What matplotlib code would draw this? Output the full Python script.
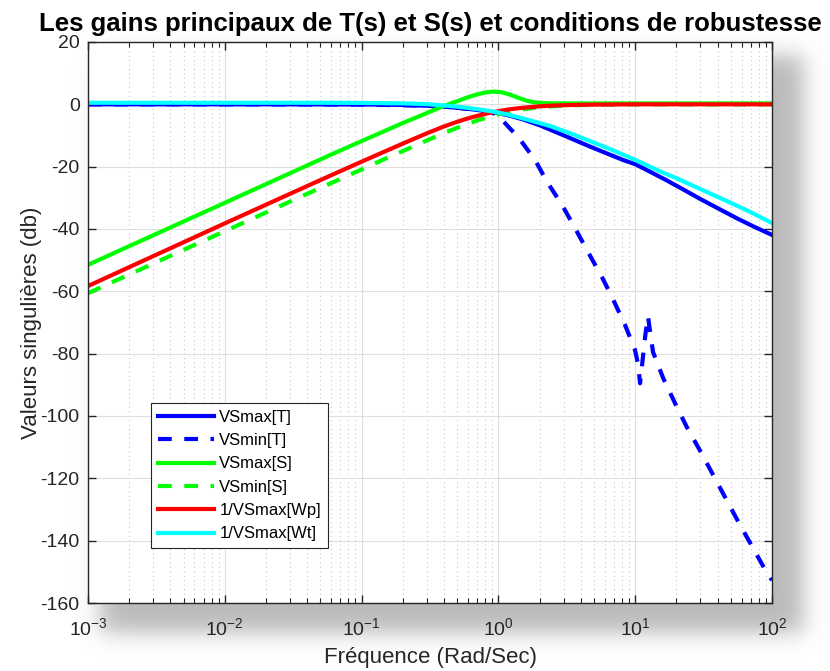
import numpy as np
import matplotlib
matplotlib.use("Agg")
import matplotlib.pyplot as plt
from matplotlib.ticker import LogLocator, NullFormatter, MultipleLocator

plt.rcParams['font.family'] = ['Liberation Sans', 'DejaVu Sans']
plt.rcParams['mathtext.fontset'] = 'custom'
plt.rcParams['mathtext.rm'] = 'Liberation Sans'
plt.rcParams['mathtext.default'] = 'regular'
plt.rcParams['axes.unicode_minus'] = False

# singular values (frequency in rad/s, gain in dB)
f_tmax = [1e-3, 0.01, 0.05, 0.1, 0.15, 0.2, 0.3, 0.4, 0.5, 0.6, 0.7, 0.85, 1.0, 1.2,
          1.5, 2.0, 2.7, 3.5, 4.7, 6.0, 8.2, 10, 12.8, 17, 22, 30, 40, 55, 75, 100]
db_tmax = [0, 0, -0.02, -0.05, -0.1, -0.2, -0.45, -0.75, -1.1, -1.45, -1.8, -2.3, -2.8, -3.6,
           -4.8, -6.7, -9.1, -11.2, -13.6, -15.5, -17.9, -19.2, -21.6, -24.4, -27.1, -30.4,
           -33.3, -36.5, -39.4, -41.9]

f_tmin = [1e-3, 0.01, 0.1, 0.3, 0.5, 0.7, 0.85, 0.98, 1.06, 1.2, 1.39, 1.85, 2.27, 2.92,
          3.63, 4.52, 5.71, 6.76, 8.43, 9.97, 10.5, 10.85, 11.3, 11.9, 12.4, 12.9, 13.5,
          16.0, 19.5, 23.8, 29.6, 36.8, 45.7, 56.8, 70.6, 87.7, 100]
db_tmin = [0, 0, -0.05, -0.45, -1.1, -1.8, -2.4, -3.3, -4.9, -7.5, -10.4, -17.8, -24.9, -32.3,
           -39.7, -47.4, -55.4, -61.8, -70.8, -78.8, -83.5, -89.5, -82.5, -73.5, -68.0, -73.5,
           -79.5, -87.8, -95.8, -103.5, -110.9, -118.6, -126.3, -134.0, -141.4, -148.8, -152.7]

f_smax = [1e-3, 0.003, 0.01, 0.03, 0.06, 0.1, 0.15, 0.2, 0.3, 0.4, 0.5, 0.6, 0.7, 0.8, 0.92,
          1.05, 1.2, 1.4, 1.6, 1.8, 2.1, 2.5, 3.5, 5, 10, 30, 100]
db_smax = [-51.5, -42.0, -31.6, -22.1, -16.1, -11.8, -8.4, -6.0, -2.8, -0.5, 1.0, 2.3, 3.2,
           3.8, 4.1, 3.9, 3.2, 2.1, 1.2, 0.7, 0.4, 0.3, 0.3, 0.3, 0.3, 0.3, 0.3]

f_smin = [1e-3, 0.003, 0.01, 0.03, 0.05, 0.1, 0.15, 0.2, 0.3, 0.4, 0.55, 0.7, 0.89, 1.0,
          1.2, 1.5, 2.0, 3.0, 5, 10, 30, 100]
db_smin = [-60.6, -51.1, -40.7, -31.2, -26.8, -20.9, -17.4, -15.0, -11.6, -9.2, -6.8, -5.2,
           -3.8, -3.2, -2.4, -1.6, -0.9, -0.4, -0.1, 0, 0, 0]

f_wp = [1e-3, 0.003, 0.01, 0.03, 0.05, 0.1, 0.15, 0.2, 0.3, 0.4, 0.5, 0.6, 0.7, 0.85, 1.0,
        1.2, 1.5, 2.0, 2.5, 3.5, 5, 10, 30, 100]
db_wp = [-58.3, -48.7, -38.2, -28.7, -24.3, -18.4, -15.0, -12.6, -9.3, -7.1, -5.6, -4.5,
         -3.7, -2.8, -2.2, -1.6, -1.1, -0.65, -0.4, -0.2, -0.1, 0, 0, 0]

f_wt = [1e-3, 0.01, 0.05, 0.1, 0.2, 0.3, 0.4, 0.5, 0.6, 0.7, 0.85, 1.0, 1.2, 1.5, 2.0, 2.4,
        3.5, 5, 7, 10, 15, 20, 30, 45, 70, 100]
db_wt = [0.5, 0.5, 0.5, 0.45, 0.3, 0.05, -0.35, -0.75, -1.15, -1.55, -2.1, -2.6, -3.4, -4.5,
         -6.0, -7.0, -9.6, -12.3, -14.9, -17.8, -21.4, -23.7, -27.2, -30.7, -34.6, -38.1]

labels = ["VSmax[T]", "VSmin[T]", "VSmax[S]", "VSmin[S]", "1/VSmax[Wp]", "1/VSmax[Wt]"]

W, H = 830, 671
fig = plt.figure(figsize=(W / 100, H / 100), dpi=100)

# soft drop shadow behind the axes (MATLAB screenshot look)
bg = fig.add_axes([0, 0, 1, 1], zorder=0)
bg.set_axis_off()
xx = np.arange(W)[None, :]
yy = np.arange(H)[:, None]
sig = 13.0
def step(v):
    return 0.5 * (1 + np.tanh(v / sig))
shade = step(xx - 100) * step(802 - xx) * step(yy - 55) * step(632 - yy) * 0.42
rgba = np.zeros((H, W, 4))
rgba[..., :3] = 0.35
rgba[..., 3] = shade
bg.imshow(rgba, extent=[0, W, H, 0], aspect='auto', interpolation='nearest')
bg.set_xlim(0, W)
bg.set_ylim(H, 0)

ax = fig.add_axes([88 / W, (H - 603) / H, 684 / W, 561 / H], zorder=1)
ax.set_facecolor('white')

lw = 3.0
dash = (0, (3.3, 3.0))
ax.semilogx(f_tmax, db_tmax, color='#0000ff', lw=lw, label=labels[0])
ax.semilogx(f_tmin, db_tmin, color='#0000ff', lw=lw, linestyle=dash, label=labels[1])
ax.semilogx(f_smax, db_smax, color='#00ff00', lw=lw, label=labels[2])
ax.semilogx(f_smin, db_smin, color='#00ff00', lw=lw, linestyle=dash, label=labels[3])
ax.semilogx(f_wp, db_wp, color='#ff0000', lw=lw, label=labels[4])
ax.semilogx(f_wt, db_wt, color='#00ffff', lw=lw, label=labels[5])

ax.set_xlim(1e-3, 1e2)
ax.set_ylim(-160, 20)
ax.yaxis.set_major_locator(MultipleLocator(20))
ax.xaxis.set_major_locator(LogLocator(base=10, numticks=10))
ax.xaxis.set_minor_locator(LogLocator(base=10, subs=np.arange(2, 10), numticks=10))
ax.xaxis.set_minor_formatter(NullFormatter())

dark = '#262626'
ax.grid(True, which='major', color='#dfdfdf', lw=0.8, linestyle='-')
ax.grid(True, which='minor', axis='x', color='#c4c4c4', lw=0.8, linestyle=(0, (1, 3)))
ax.set_axisbelow(True)
ax.tick_params(which='both', direction='in', top=True, right=True, colors=dark,
               labelsize=14)
ax.tick_params(axis='y', pad=6)
ax.tick_params(axis='x', pad=10)
ax.tick_params(which='major', length=6, width=1)
ax.tick_params(which='minor', length=3.5, width=0.8)
for s in ax.spines.values():
    s.set_color(dark)
    s.set_linewidth(1.0)

ax.set_title("Les gains principaux de T(s) et S(s) et conditions de robustesse",
             fontsize=18.5, fontweight='bold', color='black', pad=8)
ax.set_xlabel("Fréquence (Rad/Sec)", fontsize=16, color=dark)
ax.set_ylabel("Valeurs singulières (db)", fontsize=16, color=dark)
ax.xaxis.set_label_coords(0.5, -0.078)
ax.yaxis.set_label_coords(-0.067, 0.5)

leg = ax.legend(loc='lower left', bbox_to_anchor=(0.092, 0.098), fontsize=12,
                handlelength=3.4, handletextpad=0.3, labelspacing=0.5,
                borderpad=0.4, borderaxespad=0, fancybox=False, framealpha=1)
leg.get_frame().set_edgecolor(dark)
leg.get_frame().set_linewidth(0.8)

fig.savefig("out.png", dpi=100)
